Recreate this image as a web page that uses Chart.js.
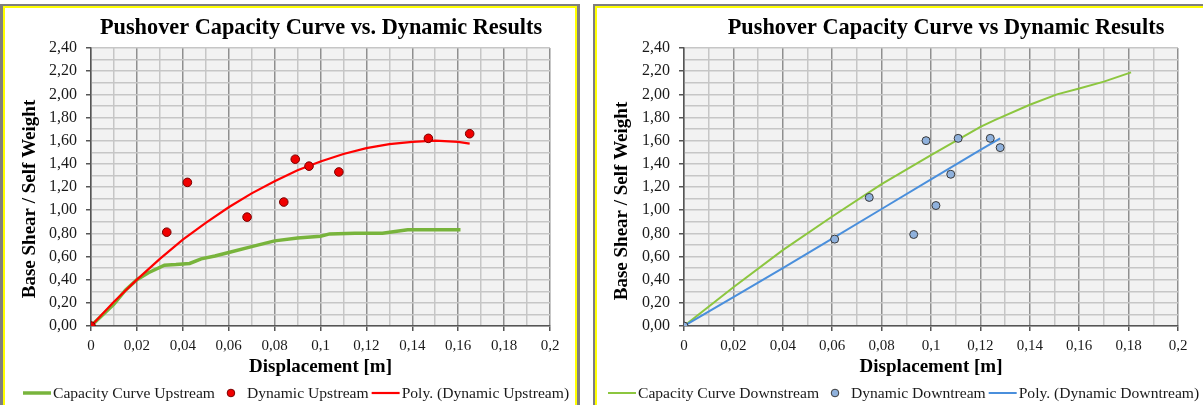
<!DOCTYPE html>
<html><head><meta charset="utf-8">
<script src="https://cdn.jsdelivr.net/npm/chart.js@4.4.0/dist/chart.umd.min.js"></script>
<style>
html,body{margin:0;padding:0;background:#fff;width:1203px;height:405px;overflow:hidden;position:relative}
.box{position:absolute;box-sizing:border-box;border-style:solid;border-color:#7f7f7f;border-bottom:none}
.in{position:absolute;left:0;top:0;right:0;bottom:0;border:2px solid #ffff00;border-bottom:none}
canvas{position:absolute;top:0}
</style></head><body>
<div class="box" style="left:0;top:4px;width:580px;height:420px;border-width:2px 3px 0 3px"><div class="in"></div></div>
<div class="box" style="left:593px;top:4px;width:640px;height:420px;border-width:2px 0 0 2px"><div class="in"></div></div>
<canvas id="c1" width="590" height="405" style="left:0;width:590px;height:405px"></canvas>
<canvas id="c2" width="613" height="405" style="left:590px;width:613px;height:405px"></canvas>
<script>
// ---- data ----
const xTickLabels = ['0','0,02','0,04','0,06','0,08','0,1','0,12','0,14','0,16','0,18','0,2'];
const yTickLabels = ['0,00','0,20','0,40','0,60','0,80','1,00','1,20','1,40','1,60','1,80','2,00','2,20','2,40'];

const capUpX = [0, 0.01, 0.015, 0.02, 0.025, 0.032, 0.037, 0.043, 0.048, 0.054, 0.06, 0.07, 0.08, 0.09, 0.1, 0.104, 0.115, 0.127, 0.138, 0.161];
const capUpY = [0, 0.19, 0.31, 0.40, 0.46, 0.525, 0.53, 0.54, 0.58, 0.605, 0.635, 0.685, 0.735, 0.76, 0.775, 0.795, 0.80, 0.80, 0.83, 0.83];
const dynUpX = [0, 0.033, 0.042, 0.068, 0.084, 0.089, 0.095, 0.108, 0.147, 0.165];
const dynUpY = [0, 0.81, 1.24, 0.94, 1.07, 1.44, 1.38, 1.33, 1.62, 1.66];
const polyUpX = [0, 0.01, 0.02, 0.03, 0.04, 0.05, 0.06, 0.07, 0.08, 0.09, 0.10, 0.11, 0.12, 0.13, 0.14, 0.15, 0.16, 0.165];
const polyUpY = [0, 0.21, 0.40, 0.58, 0.745, 0.89, 1.025, 1.145, 1.25, 1.345, 1.42, 1.485, 1.535, 1.57, 1.59, 1.60, 1.59, 1.575];

const capDownX = [0, 0.02, 0.04, 0.06, 0.08, 0.10, 0.12, 0.126, 0.14, 0.151, 0.16, 0.17, 0.181];
const capDownY = [0, 0.335, 0.655, 0.945, 1.225, 1.475, 1.72, 1.78, 1.91, 2.00, 2.05, 2.11, 2.19];
const dynDownX = [0, 0.061, 0.075, 0.093, 0.098, 0.102, 0.108, 0.111, 0.124, 0.128];
const dynDownY = [0, 0.75, 1.11, 0.79, 1.60, 1.04, 1.31, 1.62, 1.62, 1.54];
const polyDownX = [0, 0.02, 0.04, 0.06, 0.08, 0.10, 0.12, 0.128];
const polyDownY = [0, 0.25, 0.50, 0.755, 1.01, 1.265, 1.52, 1.62];

// ---- helpers ----
const SERIF = "'Liberation Serif','Times New Roman',serif";
const pts = (xs, ys) => xs.map((x, i) => ({x: x, y: ys[i]}));

const bgPlugin = {
  id: 'plotBg',
  beforeDraw(chart) {
    const a = chart.chartArea, ctx = chart.ctx;
    ctx.save(); ctx.fillStyle = '#f2f2f2';
    ctx.fillRect(a.left, a.top, a.right - a.left, a.bottom - a.top);
    ctx.restore();
  }
};

const textPlugin = {
  id: 'chartTexts',
  afterDraw(chart, args, opts) {
    const ctx = chart.ctx;
    ctx.save();
    // chart title
    ctx.fillStyle = '#000';
    ctx.font = 'bold 22.3px ' + SERIF;
    ctx.textAlign = 'center'; ctx.textBaseline = 'alphabetic';
    ctx.fillText(opts.title, opts.titleX, 34);
    // y axis title
    ctx.save();
    ctx.translate(opts.yTitleX, opts.yTitleY);
    ctx.rotate(-Math.PI / 2);
    ctx.font = 'bold 19px ' + SERIF;
    ctx.textBaseline = 'middle';
    ctx.fillText(opts.yTitle, 0, 0);
    ctx.restore();
    // legend
    let x = opts.legX; const y = 393;
    ctx.textAlign = 'left';
    ctx.font = '15.6px ' + SERIF;
    ctx.textBaseline = 'middle';
    opts.items.forEach((it, i) => {
      if (it.type === 'line') {
        if (i > 0) x += 3;
        ctx.strokeStyle = it.color; ctx.lineWidth = it.width;
        ctx.beginPath(); ctx.moveTo(x, y); ctx.lineTo(x + 28, y); ctx.stroke();
        x += 30;
      } else {
        x += 14;
        ctx.beginPath(); ctx.arc(x + 2, y, 3.8, 0, Math.PI * 2);
        ctx.fillStyle = it.color; ctx.fill();
        ctx.strokeStyle = it.border; ctx.lineWidth = 1; ctx.stroke();
        x += 18;
      }
      ctx.fillStyle = '#1a1a1a';
      ctx.fillText(it.text, x, y + 1);
      x += ctx.measureText(it.text).width;
    });
    ctx.restore();
  }
};

function options(o) {
  const isMajX = v => Math.round(v * 100) % 2 === 0;
  return {
    responsive: false, animation: false, devicePixelRatio: 1,
    layout: {padding: {left: o.padL, right: o.padR, top: 48, bottom: 27}},
    plugins: {
      legend: {display: false},
      tooltip: {enabled: false},
      title: {display: false},
      chartTexts: o.texts
    },
    scales: {
      x: {
        type: 'linear', min: 0, max: 0.2,
        afterFit(s) { s.height = 52; },
        ticks: {stepSize: 0.01, autoSkip: false, maxRotation: 0, padding: 6, color: '#1a1a1a',
          font: {family: SERIF, size: 15},
          callback: v => isMajX(v) ? xTickLabels[Math.round(v * 50)] : ''},
        grid: {lineWidth: 1.5, tickLength: 5,
          color: c => (c.tick && isMajX(c.tick.value)) ? '#8f8f8f' : '#c6c6c6',
          tickColor: c => (c.tick && isMajX(c.tick.value)) ? '#555' : 'rgba(0,0,0,0)'},
        border: {color: '#555', width: 1.5},
        title: {display: true, text: 'Displacement [m]', color: '#000',
          font: {family: SERIF, size: 19, weight: 'bold'}, padding: {top: 0, bottom: 0}}
      },
      y: {
        type: 'linear', min: 0, max: 2.4,
        afterFit(s) { s.width = o.yW; },
        ticks: {stepSize: 0.1, autoSkip: false, padding: 9, color: '#1a1a1a',
          font: {family: SERIF, size: 16},
          callback: v => (Math.round(v * 10) % 2 === 0) ? yTickLabels[Math.round(v * 5)] : ''},
        grid: {lineWidth: 1.5, tickLength: 5, color: '#c6c6c6',
          tickColor: c => (c.tick && Math.round(c.tick.value * 10) % 2 === 0) ? '#555' : 'rgba(0,0,0,0)'},
        border: {color: '#555', width: 1.5},
        title: {display: false}
      }
    }
  };
}

new Chart(document.getElementById('c1'), {
  type: 'scatter',
  data: {datasets: [
    {label: 'Capacity Curve Upstream', data: pts(capUpX, capUpY), showLine: true, borderColor: '#78b43c',
     borderWidth: 3.5, pointRadius: 0, order: 3},
    {label: 'Dynamic Upstream', data: pts(dynUpX, dynUpY), showLine: false, backgroundColor: '#f00000',
     borderColor: '#7a0000', borderWidth: 1, pointRadius: 4.3, order: 1},
    {label: 'Poly. (Dynamic Upstream)', data: pts(polyUpX, polyUpY), showLine: true, borderColor: '#ff0000',
     borderWidth: 2.2, pointRadius: 0, order: 2}
  ]},
  options: options({padL: 10, padR: 40, yW: 81, texts: {
    title: 'Pushover Capacity Curve vs. Dynamic Results', titleX: 321,
    yTitle: 'Base Shear / Self Weight', yTitleX: 30, yTitleY: 199, legX: 23,
    items: [
      {type: 'line', color: '#78b43c', width: 3.5, text: 'Capacity Curve Upstream'},
      {type: 'dot', color: '#f00000', border: '#7a0000', text: 'Dynamic Upstream'},
      {type: 'line', color: '#ff0000', width: 2.2, text: 'Poly. (Dynamic Upstream)'}
    ]}}),
  plugins: [bgPlugin, textPlugin]
});

new Chart(document.getElementById('c2'), {
  type: 'scatter',
  data: {datasets: [
    {label: 'Capacity Curve Downstream', data: pts(capDownX, capDownY), showLine: true, borderColor: '#8cc63f',
     borderWidth: 2, pointRadius: 0, order: 3},
    {label: 'Dynamic Downtream', data: pts(dynDownX, dynDownY), showLine: false, backgroundColor: '#8fb1dc',
     borderColor: '#3a3a3a', borderWidth: 1, pointRadius: 4, order: 1},
    {label: 'Poly. (Dynamic Downtream)', data: pts(polyDownX, polyDownY), showLine: true, borderColor: '#4a8fdc',
     borderWidth: 2, pointRadius: 0, order: 2}
  ]},
  options: options({padL: 12, padR: 25, yW: 82, texts: {
    title: 'Pushover Capacity Curve vs Dynamic Results', titleX: 946 - 590,
    yTitle: 'Base Shear / Self Weight', yTitleX: 32, yTitleY: 201, legX: 18,
    items: [
      {type: 'line', color: '#8cc63f', width: 2, text: 'Capacity Curve Downstream'},
      {type: 'dot', color: '#8fb1dc', border: '#3a3a3a', text: 'Dynamic Downtream'},
      {type: 'line', color: '#4a8fdc', width: 2, text: 'Poly. (Dynamic Downtream)'}
    ]}}),
  plugins: [bgPlugin, textPlugin]
});
</script>
</body></html>
